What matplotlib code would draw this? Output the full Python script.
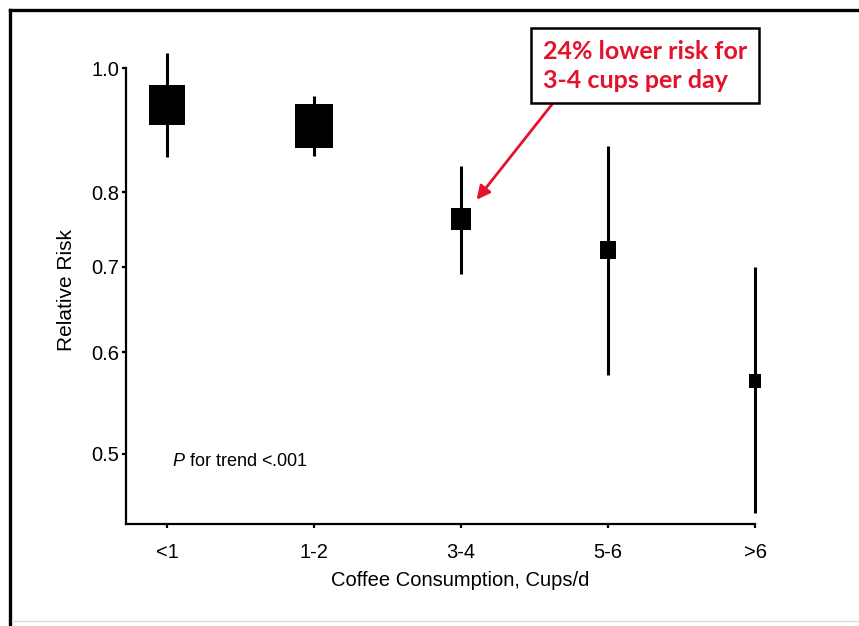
import matplotlib
matplotlib.use("Agg")
import matplotlib.pyplot as plt
from matplotlib.lines import Line2D
from matplotlib.path import Path

plt.rcParams['font.family'] = ['Liberation Sans', 'DejaVu Sans']
plt.rcParams['mathtext.fontset'] = 'custom'
plt.rcParams['mathtext.it'] = 'Liberation Sans:italic'
plt.rcParams['mathtext.rm'] = 'Liberation Sans'

# relative risk by coffee intake, with 95% CI
categories = ['<1', '1-2', '3-4', '5-6', '>6']
rr = [0.935, 0.901, 0.762, 0.721, 0.570]
ci_low = [0.852, 0.854, 0.691, 0.576, 0.450]
ci_high = [1.027, 0.951, 0.839, 0.869, 0.700]
yticks = [0.5, 0.6, 0.7, 0.8, 1.0]

# box heights (pt) reflect study weight
box_ms = [29.5, 31, 16.5, 13, 10]
box = Path([(-0.45, -0.5), (0.45, -0.5), (0.45, 0.5), (-0.45, 0.5), (-0.45, -0.5)],
           [Path.MOVETO, Path.LINETO, Path.LINETO, Path.LINETO, Path.CLOSEPOLY])

fig = plt.figure(figsize=(8.59, 6.26), dpi=100)
ax = fig.add_axes([0.1467, 0.1629, 0.7323, 0.7732])

x = list(range(len(categories)))
ax.vlines(x, ci_low, ci_high, color='black', lw=2.2, zorder=2, clip_on=False)
for xi, yi, ms in zip(x, rr, box_ms):
    ax.plot(xi, yi, marker=box, ms=ms, color='black', mew=0, zorder=3, clip_on=False)

ax.set_yscale('log')
ax.set_ylim(0.4409, 1.0516)
ax.set_xlim(-0.28, 4.0)
ax.set_yticks(yticks)
ax.set_yticklabels([f'{t:.1f}' for t in yticks])
ax.minorticks_off()
ax.set_xticks(x)
ax.set_xticklabels(categories)

for s in ['top', 'right']:
    ax.spines[s].set_visible(False)
ax.spines['left'].set_bounds(0.4409, 1.0)
ax.spines['left'].set_linewidth(1.6)
ax.spines['bottom'].set_linewidth(1.6)
ax.tick_params(axis='both', direction='out', length=3, width=1.6, labelsize=14.5)
ax.tick_params(axis='y', pad=2)
ax.tick_params(axis='x', pad=11)

ax.set_ylabel('Relative Risk', fontsize=15)
ax.yaxis.set_label_coords(-0.0795, 0.483)
ax.set_xlabel('Coffee Consumption, Cups/d', fontsize=14.5)
ax.xaxis.set_label_coords(0.531, -0.097)

ax.text(0.073, 0.130, r'$\mathit{P}$ for trend <.001', transform=ax.transAxes,
        fontsize=13, va='center', ha='left')

# callout for the 3-4 cups group
ax.annotate('24% lower risk for\n3-4 cups per day',
            xy=(x[2], rr[2]), xycoords='data',
            xytext=(543, 586), textcoords='figure pixels',
            ha='left', va='top', color='#e3122d', fontsize=18,
            fontweight='bold', family=['Lato', 'DejaVu Sans'], linespacing=1.3,
            bbox=dict(boxstyle='square,pad=0.47', fc='white', ec='black', lw=1.8),
            arrowprops=dict(arrowstyle='-|>', color='#e3122d', lw=2,
                            mutation_scale=20, relpos=(0.093, 0.0),
                            shrinkA=0, shrinkB=18))

# outer frame
fig.add_artist(Line2D([10 / 859, 1], [1 - 10 / 626, 1 - 10 / 626], color='black', lw=2.4))
fig.add_artist(Line2D([10 / 859, 10 / 859], [1 - 10 / 626, 0], color='black', lw=2.4))
fig.add_artist(Line2D([12 / 859, 1], [5 / 626, 5 / 626], color='#dddddd', lw=1))

fig.savefig('out.png', dpi=100)
